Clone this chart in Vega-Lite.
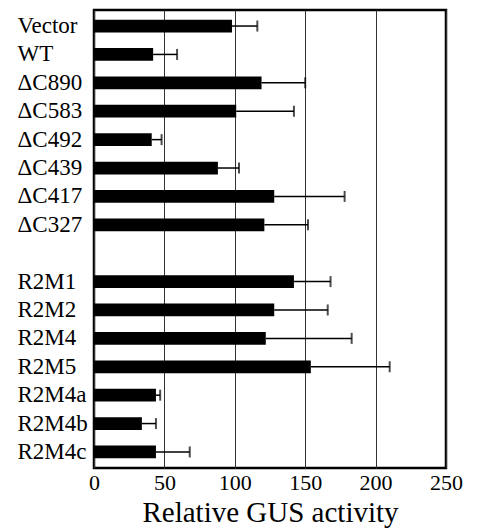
{
  "$schema": "https://vega.github.io/schema/vega-lite/v6.json",
  "width": 352,
  "height": 458,
  "autosize": {"type": "none"},
  "padding": {"left": 94, "top": 10, "right": 33, "bottom": 63},
  "background": "white",
  "config": {
    "view": {"stroke": "black", "strokeWidth": 2.5},
    "font": "Liberation Serif"
  },
  "data": {
    "values": [
      {"construct": "Vector", "activity": 98, "upper": 116},
      {"construct": "WT", "activity": 42, "upper": 59},
      {"construct": "ΔC890", "activity": 119, "upper": 150},
      {"construct": "ΔC583", "activity": 101, "upper": 142},
      {"construct": "ΔC492", "activity": 41, "upper": 48},
      {"construct": "ΔC439", "activity": 88, "upper": 103},
      {"construct": "ΔC417", "activity": 128, "upper": 178},
      {"construct": "ΔC327", "activity": 121, "upper": 152},
      {"construct": "R2M1", "activity": 142, "upper": 168},
      {"construct": "R2M2", "activity": 128, "upper": 166},
      {"construct": "R2M4", "activity": 122, "upper": 183},
      {"construct": "R2M5", "activity": 154, "upper": 210},
      {"construct": "R2M4a", "activity": 44, "upper": 47},
      {"construct": "R2M4b", "activity": 34, "upper": 44},
      {"construct": "R2M4c", "activity": 44, "upper": 68}
    ]
  },
  "encoding": {
    "y": {
      "field": "construct",
      "type": "nominal",
      "sort": null,
      "scale": {
        "domain": ["Vector", "WT", "ΔC890", "ΔC583", "ΔC492", "ΔC439", "ΔC417", "ΔC327", " ", "R2M1", "R2M2", "R2M4", "R2M5", "R2M4a", "R2M4b", "R2M4c"],
        "paddingInner": 0.55,
        "paddingOuter": 0.34
      },
      "axis": {
        "title": null,
        "domain": false,
        "ticks": false,
        "grid": false,
        "labelAlign": "left",
        "labelPadding": 77,
        "labelFont": "Liberation Serif",
        "labelFontSize": 23,
        "labelColor": "black"
      }
    }
  },
  "layer": [
    {
      "mark": {"type": "bar", "color": "black"},
      "encoding": {
        "x": {
          "field": "activity",
          "type": "quantitative",
          "scale": {"domain": [0, 250], "nice": false},
          "axis": {
            "title": "Relative GUS activity",
            "values": [0, 50, 100, 150, 200, 250],
            "domain": false,
            "ticks": false,
            "grid": true,
            "gridColor": "#333",
            "gridWidth": 1,
            "labelFlush": false,
            "labelPadding": 4,
            "labelFont": "Liberation Serif",
            "labelFontSize": 22,
            "labelColor": "black",
            "titleFont": "Liberation Serif",
            "titleFontSize": 29,
            "titleFontWeight": "normal",
            "titleColor": "black",
            "titlePadding": 5
          }
        }
      }
    },
    {
      "mark": {"type": "rule", "color": "black", "strokeWidth": 1.5},
      "encoding": {
        "x": {"field": "activity", "type": "quantitative"},
        "x2": {"field": "upper"}
      }
    },
    {
      "mark": {"type": "tick", "color": "black", "size": 11, "thickness": 2},
      "encoding": {
        "x": {"field": "upper", "type": "quantitative"}
      }
    }
  ]
}
